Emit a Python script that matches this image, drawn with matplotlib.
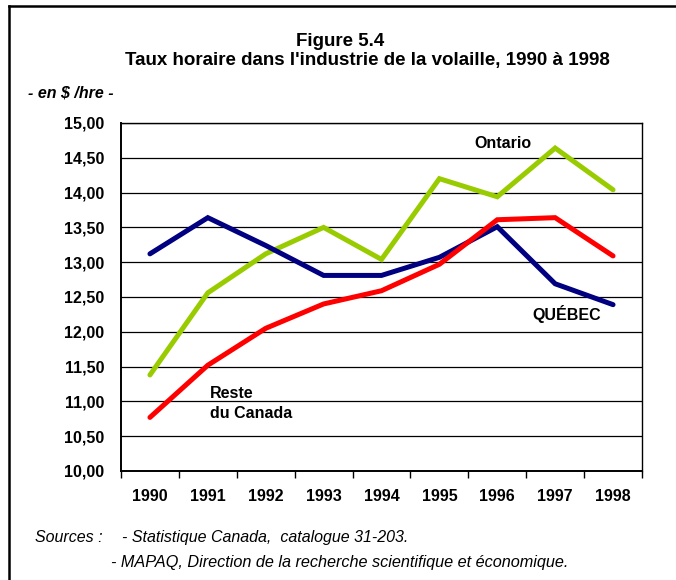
import matplotlib
matplotlib.use("Agg")
import matplotlib.pyplot as plt
from matplotlib.lines import Line2D

years = ["1990", "1991", "1992", "1993", "1994", "1995", "1996", "1997", "1998"]
quebec = [13.12, 13.64, 13.24, 12.81, 12.81, 13.07, 13.51, 12.69, 12.39]
ontario = [11.38, 12.56, 13.12, 13.50, 13.04, 14.20, 13.94, 14.64, 14.04]
reste = [10.77, 11.52, 12.05, 12.40, 12.59, 12.97, 13.61, 13.64, 13.09]
yticks = [10.0, 10.5, 11.0, 11.5, 12.0, 12.5, 13.0, 13.5, 14.0, 14.5, 15.0]
ytick_labels = ["10,00", "10,50", "11,00", "11,50", "12,00", "12,50",
                "13,00", "13,50", "14,00", "14,50", "15,00"]

plt.rcParams['font.family'] = ['Liberation Sans', 'DejaVu Sans']

W, H = 676, 580
fig = plt.figure(figsize=(W / 100, H / 100), dpi=100)

# plot area: x 121..642, y 123..471 (pixels)
ax = fig.add_axes([121 / W, 1 - 471 / H, (642 - 121) / W, (471 - 123) / H])

x = list(range(len(years)))
ax.plot(x, ontario, color="#99CC00", lw=3.6, solid_capstyle="round", solid_joinstyle="miter", zorder=3)
ax.plot(x, quebec, color="#000080", lw=3.6, solid_capstyle="round", solid_joinstyle="miter", zorder=4)
ax.plot(x, reste, color="#FF0000", lw=3.6, solid_capstyle="round", solid_joinstyle="miter", zorder=5)

ax.set_xlim(-0.5, len(years) - 0.5)
ax.set_ylim(10, 15)
ax.set_yticks(yticks)
ax.set_yticklabels(ytick_labels, fontsize=11.5, fontweight="bold")
ax.set_xticks([i + 0.5 for i in range(-1, len(years))])
ax.set_xticklabels([])
ax.set_xticks(x, minor=True)
ax.set_xticklabels(years, minor=True, fontsize=11.5, fontweight="bold")
ax.tick_params(axis="x", which="minor", length=0, pad=13)
ax.tick_params(axis="x", which="major", length=5, width=1, direction="out", color="black")
ax.tick_params(axis="y", length=0, pad=12)
ax.yaxis.grid(True, color="black", lw=0.9)
ax.set_axisbelow(True)
for s in ["left", "bottom"]:
    ax.spines[s].set_linewidth(1.4)
for s in ["top", "right"]:
    ax.spines[s].set_linewidth(1.0)

ax.text(6.1, 14.7, "Ontario", fontsize=11.5, fontweight="bold", ha="center", va="center")
ax.text(7.2, 12.26, "QUÉBEC", fontsize=11.5, fontweight="bold", ha="center", va="center")
ax.text(1.03, 10.97, "Reste\ndu Canada", fontsize=11.5, fontweight="bold", ha="left", va="center",
        linespacing=1.45)

fig.text(340 / W, 1 - 41 / H, "Figure 5.4", fontsize=13.5, fontweight="bold", ha="center", va="center")
fig.text(367 / W, 1 - 61 / H, "Taux horaire dans l'industrie de la volaille, 1990 à 1998",
         fontsize=13.5, fontweight="bold", ha="center", va="center")
fig.text(28 / W, 1 - 93 / H, "- en $ /hre -", fontsize=11.5, fontweight="bold", style="italic",
         ha="left", va="center")
fig.text(35 / W, 1 - 542 / H, "Sources :", fontsize=11.5, style="italic", ha="left", va="baseline")
fig.text(122 / W, 1 - 542 / H, "- Statistique Canada,  catalogue 31-203.", fontsize=11.5,
         style="italic", ha="left", va="baseline")
fig.text(111 / W, 1 - 567 / H, "- MAPAQ, Direction de la recherche scientifique et économique.",
         fontsize=11.7, style="italic", ha="left", va="baseline")

# figure border (top and left visible)
fig.add_artist(Line2D([9 / W, 9 / W], [0, 1 - 6 / H], transform=fig.transFigure, color="black", lw=1.8))
fig.add_artist(Line2D([9 / W, 1], [1 - 6 / H, 1 - 6 / H], transform=fig.transFigure, color="black", lw=1.8))

fig.savefig("out.png", dpi=100)
